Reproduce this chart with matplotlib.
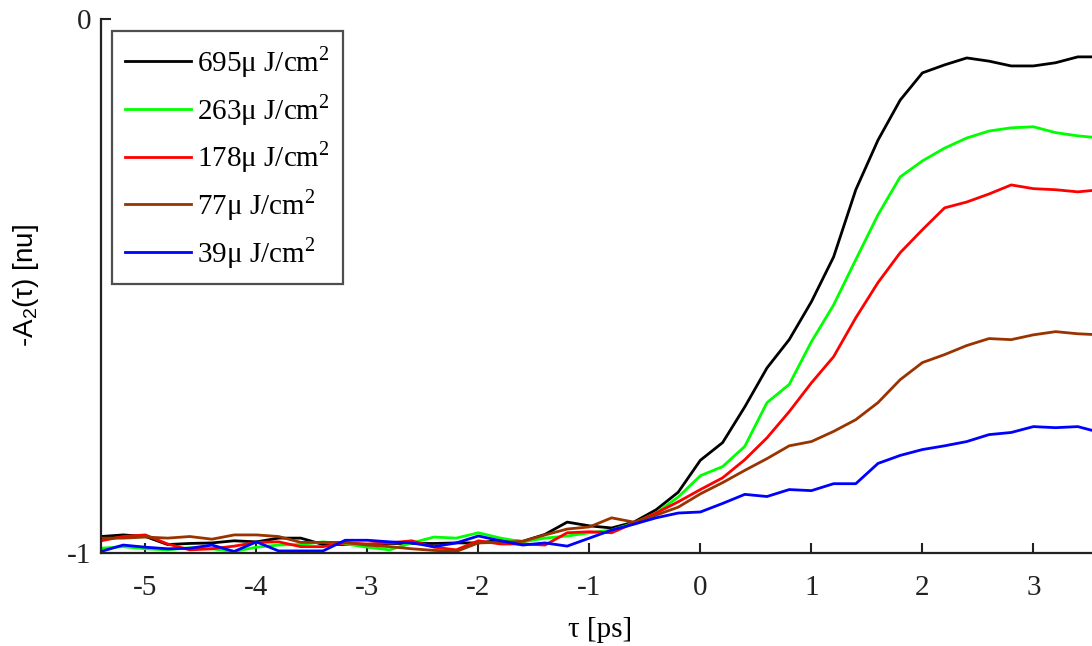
import numpy as np
import matplotlib
matplotlib.use('Agg')
import matplotlib.pyplot as plt

plt.rcParams['font.family'] = ['Liberation Serif', 'DejaVu Serif']
plt.rcParams['mathtext.fontset'] = 'custom'
plt.rcParams['mathtext.rm'] = 'Liberation Serif'
plt.rcParams['mathtext.sf'] = 'Liberation Sans'

# delay axis (ps), 0.2 ps steps
tau = np.linspace(-5.4, 3.6, 46)

a2_695 = [-0.970, -0.967, -0.970, -0.985, -0.983, -0.982, -0.978, -0.980, -0.973, -0.973,
          -0.985, -0.985, -0.985, -0.983, -0.983, -0.983, -0.982, -0.982, -0.977, -0.979,
          -0.966, -0.943, -0.950, -0.954, -0.943, -0.920, -0.887,
          -0.827, -0.794, -0.727, -0.654, -0.601, -0.530, -0.446, -0.320, -0.227, -0.152,
          -0.101, -0.086, -0.073, -0.079, -0.088, -0.088, -0.082, -0.071, -0.071]
a2_263 = [-0.992, -0.989, -0.993, -0.995, -0.991, -0.993, -0.998, -0.990, -0.986, -0.985,
          -0.980, -0.984, -0.990, -0.995, -0.982, -0.971, -0.973, -0.963, -0.973, -0.980,
          -0.973, -0.969, -0.963, -0.958, -0.945, -0.926, -0.896,
          -0.856, -0.839, -0.801, -0.719, -0.685, -0.605, -0.536, -0.451, -0.367, -0.296,
          -0.266, -0.242, -0.223, -0.210, -0.204, -0.202, -0.213, -0.219, -0.223]
a2_178 = [-0.978, -0.970, -0.967, -0.984, -0.995, -0.993, -0.988, -0.981, -0.980, -0.989,
          -0.989, -0.982, -0.984, -0.982, -0.978, -0.990, -0.995, -0.978, -0.984, -0.984,
          -0.986, -0.963, -0.961, -0.963, -0.945, -0.926, -0.905,
          -0.882, -0.860, -0.826, -0.785, -0.736, -0.682, -0.633, -0.560, -0.494, -0.438,
          -0.395, -0.354, -0.343, -0.328, -0.311, -0.318, -0.320, -0.324, -0.320]
a2_77 = [-0.973, -0.973, -0.971, -0.973, -0.970, -0.975, -0.967, -0.967, -0.970, -0.981,
         -0.981, -0.981, -0.986, -0.989, -0.993, -0.996, -0.998, -0.982, -0.981, -0.979,
         -0.967, -0.956, -0.952, -0.935, -0.943, -0.930, -0.915,
         -0.890, -0.869, -0.846, -0.824, -0.800, -0.792, -0.773, -0.751, -0.719, -0.676,
         -0.644, -0.629, -0.612, -0.599, -0.601, -0.592, -0.586, -0.590, -0.592]
a2_39 = [-0.998, -0.986, -0.990, -0.993, -0.992, -0.986, -0.998, -0.980, -0.997, -0.997,
         -0.997, -0.977, -0.977, -0.980, -0.982, -0.989, -0.982, -0.969, -0.978, -0.986,
         -0.982, -0.988, -0.973, -0.958, -0.947, -0.935, -0.926,
         -0.924, -0.908, -0.891, -0.895, -0.882, -0.884, -0.871, -0.871, -0.833, -0.818,
         -0.807, -0.800, -0.792, -0.779, -0.775, -0.764, -0.766, -0.764, -0.775]

labels = ['695μ J/cm$^{2}$', '263μ J/cm$^{2}$', '178μ J/cm$^{2}$',
          '77μ J/cm$^{2}$', '39μ J/cm$^{2}$']
colors = ['#000000', '#00ff00', '#ff0000', '#993300', '#0000ff']
series = [a2_695, a2_263, a2_178, a2_77, a2_39]

fig = plt.figure(figsize=(10.92, 6.46), dpi=100)
ax = fig.add_axes([101 / 1092, 0.1447, 999 / 1092, 0.8259])

for y, c, lab in zip(series, colors, labels):
    ax.plot(tau, y, color=c, lw=2.0, label=lab)

ax.set_xlim(-5.4, 3.6)
ax.set_ylim(-1, 0)
ax.set_xticks([-5, -4, -3, -2, -1, 0, 1, 2, 3])
ax.set_yticks([-1, 0])
ax.set_yticklabels(['-1', '0'])
ax.set_xticklabels(['-5', '-4', '-3', '-2', '-1', '0', '1', '2', '3'])
ax.tick_params(direction='in', length=7, width=1.5, labelsize=21, pad=16, colors='#222222')
ax.tick_params(axis='y', pad=7)

for side in ['top', 'right']:
    ax.spines[side].set_visible(False)
for side in ['left', 'bottom']:
    ax.spines[side].set_linewidth(1.6)
    ax.spines[side].set_color('#222222')

ax.set_xlabel('τ [ps]', fontsize=21, labelpad=12)
ax.set_ylabel('-A$_\\mathsf{2}$(τ) [nu]', fontsize=20, family=['Liberation Sans', 'DejaVu Sans'],
              labelpad=19)

leg = ax.legend(loc='upper left', bbox_to_anchor=(0.011, 0.978), fontsize=21,
                frameon=True, fancybox=False, handlelength=2.25, handletextpad=0.22,
                labelspacing=0.41, borderpad=0.45, borderaxespad=0)
leg.get_frame().set_edgecolor('#222222')
leg.get_frame().set_linewidth(1.6)

fig.savefig('out.png', dpi=100)
